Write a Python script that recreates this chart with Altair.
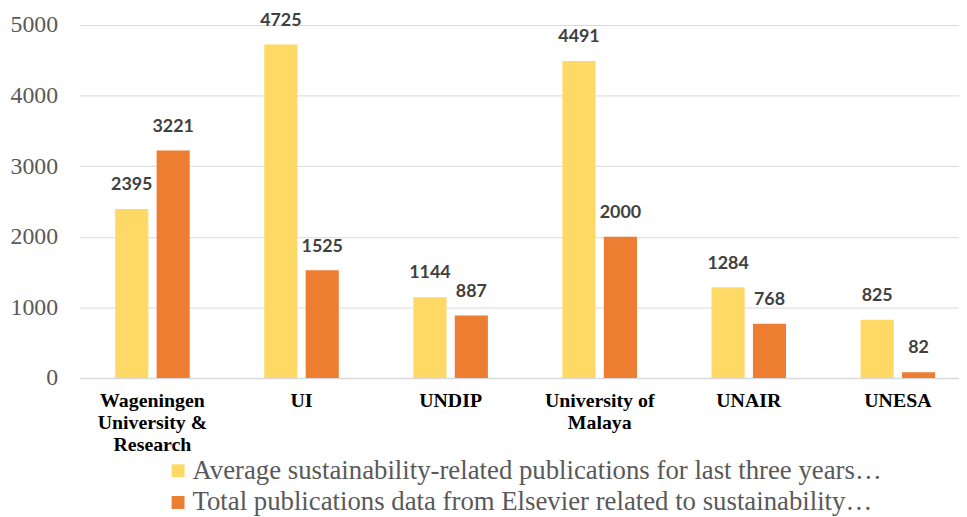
import altair as alt
import pandas as pd

universities = ["Wageningen University & Research", "UI", "UNDIP",
                "University of Malaya", "UNAIR", "UNESA"]
series_names = ["Average sustainability-related publications for last three years…",
                "Total publications data from Elsevier related to sustainability…"]
avg_values = [2395, 4725, 1144, 4491, 1284, 825]
total_values = [3221, 1525, 887, 2000, 768, 82]
colors = ["#FFD966", "#ED7D31"]

rows = []
for u, a, t in zip(universities, avg_values, total_values):
    rows.append({"university": u, "series": series_names[0], "value": a})
    rows.append({"university": u, "series": series_names[1], "value": t})
df = pd.DataFrame(rows)

label_expr = ("datum.label == 'Wageningen University & Research' ? ['Wageningen', 'University &', 'Research'] : "
              "datum.label == 'University of Malaya' ? ['University of', 'Malaya'] : datum.label")

x_scale = alt.Scale(paddingInner=0.5, paddingOuter=0.2, align=0.6)
x_enc = alt.X("university:N", sort=universities, scale=x_scale,
              axis=alt.Axis(title=None, labelAngle=0, ticks=False, domainColor="#D9D9D9",
                            domainWidth=1.5, labelFont="Liberation Serif", labelFontWeight="bold",
                            labelFontSize=20, labelColor="#000000", labelPadding=13,
                            labelLineHeight=22, labelExpr=label_expr, labelBaseline="top"))
xoff = alt.XOffset("series:N", sort=series_names, scale=alt.Scale(paddingInner=0.2))
y_enc = alt.Y("value:Q", scale=alt.Scale(domain=[0, 5000], nice=False),
              axis=alt.Axis(title=None, values=[0, 1000, 2000, 3000, 4000, 5000], ticks=False,
                            domain=False, gridColor="#D9D9D9", gridWidth=1, format="d",
                            labelFont="Liberation Serif", labelFontSize=24, labelColor="#595959",
                            labelPadding=22))

base = alt.Chart(df)
bars = base.mark_bar().encode(
    x=x_enc, xOffset=xoff, y=y_enc,
    color=alt.Color("series:N", sort=series_names,
                    scale=alt.Scale(domain=series_names, range=colors),
                    legend=alt.Legend(title=None, orient="none", legendX=86, legendY=436,
                                      direction="vertical", symbolType="square", symbolSize=169,
                                      symbolStrokeWidth=0, labelFont="Liberation Serif",
                                      labelFontSize=27, labelColor="#595959", labelOffset=1,
                                      rowPadding=4, labelLimit=900)),
)
labels = base.mark_text(baseline="middle", dy=-24, font="Lato", fontWeight="bold",
                        fontSize=18, color="#404040").encode(
    x=alt.X("university:N", sort=universities, scale=x_scale), xOffset=xoff, y="value:Q",
    text=alt.Text("value:Q"),
)

chart = alt.layer(bars, labels).properties(
    width=887, height=356,
    padding={"left": 2, "top": 1, "right": 0, "bottom": 0},
).configure_view(stroke=None)

chart.save("out.html", embed_options={"renderer": "svg", "actions": False})
